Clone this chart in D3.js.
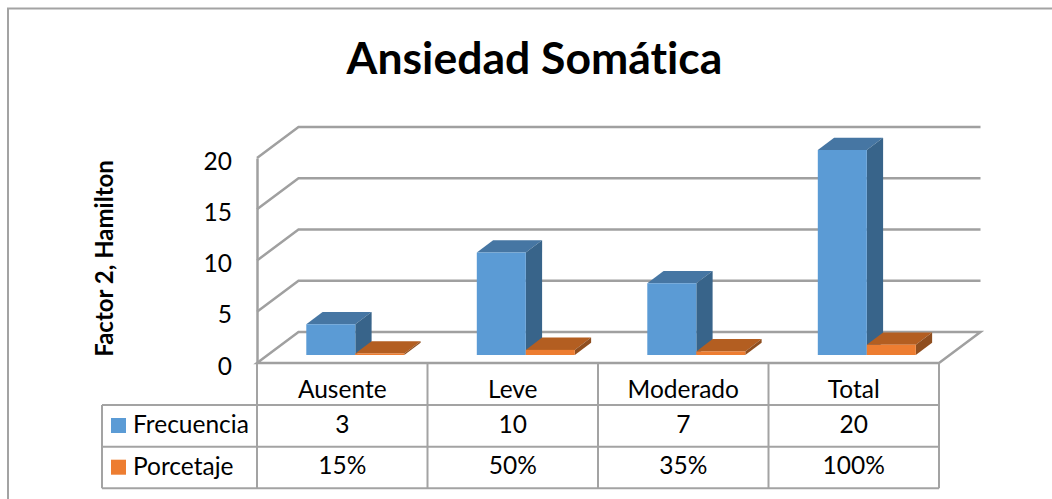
<!DOCTYPE html>
<html>
<head>
<meta charset="utf-8" />
<title>Ansiedad Somática</title>
<script src="https://d3js.org/d3.v7.min.js"></script>
<style>
    html, body { margin: 0; padding: 0; background: #fff; overflow: hidden; }
    svg { display: block; }
    text { font-family: Lato, sans-serif; fill: #000; font-variant-ligatures: none; }
</style>
</head>
<body>
<div id="holder"></div>
<script>
    //Data
    const categories = ["Ausente", "Leve", "Moderado", "Total"];
    const seriesNames = ["Frecuencia", "Porcetaje"];
    const frecuencia = [3, 10, 7, 20];
    const porcentaje = [0.15, 0.5, 0.35, 1];
    const yTicks = [0, 5, 10, 15, 20];
    const title = "Ansiedad Somática";
    const yLabel = "Factor 2, Hamilton";

    //Variables
    const w = 1052;
    const h = 499;
    const front = { left: 257, right: 939, bottom: 363, top: 158 };
    const wallDepth = { x: 41.5, y: -31 };
    const barDepth = { x: 16.3, y: -12.3 };
    const barShift = { x: 0.3, y: -8 };
    const gridColor = "#a0a0a0";
    const lineColor = "#a3a3a3";
    const colors = [
        { front: "#5b9bd5", top: "#4676a3", side: "#38648a" },
        { front: "#ed7d31", top: "#b35e21", side: "#8f4e1f" }
    ];

    const svg = d3.select("#holder").append("svg").attr("width", w).attr("height", h);

    //Frame
    svg.append("path")
        .attr("d", "M8,499V8.5H1052")
        .attr("fill", "none")
        .attr("stroke", lineColor)
        .attr("stroke-width", 2);

    const xScale = d3.scaleBand().domain(categories).range([front.left, front.right]);
    const yScale = d3.scaleLinear().domain([0, 20]).range([front.bottom, front.top]);
    const barWidth = 49;
    const barStart = 49;

    //Title
    svg.append("text")
        .attr("x", 534.5)
        .attr("y", 74)
        .attr("text-anchor", "middle")
        .style("font-size", "44.5px")
        .style("font-weight", "bold")
        .text(title);

    //Walls and floor
    svg.append("path")
        .attr("d", "M" + front.left + "," + front.bottom +
            "L" + (front.left + wallDepth.x) + "," + (front.bottom + wallDepth.y) +
            "H" + (front.right + wallDepth.x) +
            "L" + front.right + "," + front.bottom + "Z")
        .attr("fill", "none")
        .attr("stroke", gridColor)
        .attr("stroke-width", 2.5);

    svg.selectAll(".grid")
        .data(yTicks.slice(1))
        .enter()
        .append("path")
        .attr("class", "grid")
        .attr("d", d => "M" + front.left + "," + yScale(d) +
            "L" + (front.left + wallDepth.x) + "," + (yScale(d) + wallDepth.y) +
            "H" + (front.right + wallDepth.x))
        .attr("fill", "none")
        .attr("stroke", gridColor)
        .attr("stroke-width", 2.5);

    //Y axis
    const yAxis = d3.axisLeft(yScale).tickValues(yTicks).tickSize(0).tickPadding(25);
    const yG = svg.append("g")
        .attr("transform", "translate(" + front.left + ",0)")
        .call(yAxis);
    yG.select(".domain").attr("stroke", gridColor).attr("stroke-width", 2.5);
    yG.selectAll("text")
        .attr("dy", "0.45em")
        .attr("fill", "#000")
        .style("font-size", "24.5px")
        .style("font-family", "Lato, sans-serif");

    svg.append("text")
        .attr("transform", "translate(113,258.5) rotate(-90)")
        .attr("text-anchor", "middle")
        .style("font-size", "24px")
        .style("font-weight", "bold")
        .text(yLabel);

    //3D bars
    function drawBars(values, index) {
        const g = svg.append("g").attr("class", "series-" + index);
        const bx = c => xScale(c) + barStart + index * barWidth + barShift.x;
        const by = v => yScale(v) + barShift.y;
        const base = yScale(0) + barShift.y;

        g.selectAll(".top")
            .data(categories)
            .enter()
            .append("path")
            .attr("fill", colors[index].top)
            .attr("d", (c, i) => {
                const x = bx(c), y = by(values[i]);
                return "M" + x + "," + y + "l" + barDepth.x + "," + barDepth.y +
                    "h" + barWidth + "l" + (-barDepth.x) + "," + (-barDepth.y) + "Z";
            });
        g.selectAll(".side")
            .data(categories)
            .enter()
            .append("path")
            .attr("fill", colors[index].side)
            .attr("d", (c, i) => {
                const x = bx(c) + barWidth, y = by(values[i]);
                return "M" + x + "," + y + "l" + barDepth.x + "," + barDepth.y +
                    "V" + (base + barDepth.y) + "L" + x + "," + base + "Z";
            });
        g.selectAll(".front")
            .data(categories)
            .enter()
            .append("rect")
            .attr("fill", colors[index].front)
            .attr("x", c => bx(c))
            .attr("y", (c, i) => by(values[i]))
            .attr("width", barWidth)
            .attr("height", (c, i) => base - by(values[i]));
    }
    drawBars(frecuencia, 0);
    drawBars(porcentaje, 1);

    //Data table
    const rowTops = [364, 405, 446.7, 488.3];
    const tableLeft = 102;
    const table = svg.append("g");
    const tableLine = (x1, y1, x2, y2) => table.append("line")
        .attr("x1", x1).attr("y1", y1).attr("x2", x2).attr("y2", y2)
        .attr("stroke", lineColor).attr("stroke-width", 2);

    rowTops.slice(1).forEach(y => tableLine(tableLeft, y, front.right, y));
    tableLine(tableLeft, rowTops[1], tableLeft, rowTops[3]);
    tableLine(front.left, rowTops[0], front.left, rowTops[3]);
    categories.forEach(c => tableLine(xScale(c) + xScale.bandwidth(), rowTops[0], xScale(c) + xScale.bandwidth(), rowTops[3]));

    const cellText = (x, y, str, anchor) => table.append("text")
        .attr("x", x).attr("y", y)
        .attr("text-anchor", anchor)
        .style("font-size", "24.5px")
        .text(str);

    categories.forEach((c, i) => {
        const mid = xScale(c) + xScale.bandwidth() / 2;
        cellText(mid, 398, c, "middle");
        cellText(mid, 433, frecuencia[i], "middle");
        cellText(mid, 474, d3.format(".0%")(porcentaje[i]), "middle");
    });

    seriesNames.forEach((s, i) => {
        table.append("rect")
            .attr("x", 111)
            .attr("y", rowTops[i + 1] + 13)
            .attr("width", 15)
            .attr("height", 15)
            .attr("fill", colors[i].front);
        cellText(133, rowTops[i + 1] + 28, s, "start");
    });
</script>
</body>
</html>
